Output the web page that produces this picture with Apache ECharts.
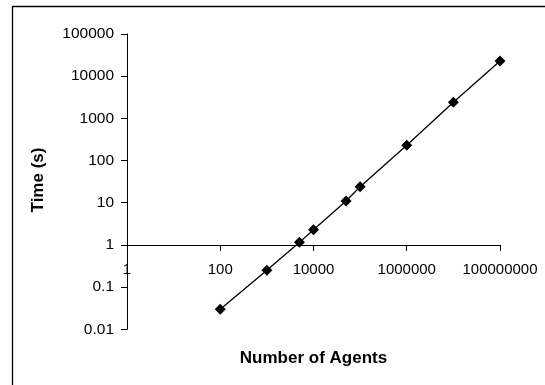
<!DOCTYPE html>
<html>
<head>
<meta charset="utf-8">
<script src="https://cdn.jsdelivr.net/npm/echarts@6/dist/echarts.min.js"></script>
<style>
  html, body { margin: 0; padding: 0; background: #fff; }
  #chart { width: 545px; height: 385px; }
</style>
</head>
<body>
<div id="chart"></div>
<script>
// Run time versus number of simulated agents (log-log)
const agents = [100, 1000, 5000, 10000, 50000, 100000, 1000000, 10000000, 100000000];
const timeSec = [0.03, 0.25, 1.15, 2.3, 11, 24, 230, 2400, 23000];
const xTitle = 'Number of Agents';
const yTitle = 'Time (s)';

const FONT = '"Liberation Sans", Arial, Helvetica, sans-serif';
const fmt = v => String(+Number(v).toPrecision(6));

const chart = echarts.init(document.getElementById('chart'), null, { renderer: 'canvas' });

const option = {
  animation: false,
  backgroundColor: '#fff',
  grid: { left: 127, right: 45, top: 34, bottom: 55.7 },
  xAxis: {
    type: 'log',
    logBase: 10,
    min: 1,
    max: 100000000,
    interval: 2,   // every second decade
    offset: 0,
    axisLine: { show: true, lineStyle: { color: '#000', width: 1 } },
    axisTick: { show: true, inside: false, length: 6, lineStyle: { color: '#000', width: 1 } },
    minorTick: { show: false },
    splitLine: { show: false },
    axisLabel: { color: '#000', fontFamily: FONT, fontSize: 15, margin: 17, formatter: fmt }
  },
  yAxis: {
    type: 'log',
    logBase: 10,
    min: 0.01,
    max: 100000,
    splitNumber: 7,
    axisLine: { show: true, lineStyle: { color: '#000', width: 1 } },
    axisTick: { show: true, inside: false, length: 6, lineStyle: { color: '#000', width: 1 } },
    splitLine: { show: false },
    axisLabel: { color: '#000', fontFamily: FONT, fontSize: 15.5, margin: 13, formatter: fmt }
  },
  graphic: [
    // chart frame (left and top edges)
    { type: 'polyline', silent: true, z: 100,
      shape: { points: [[12.5, 400], [12.5, 6.5], [560, 6.5]] },
      style: { stroke: '#000', lineWidth: 1.3, fill: null } },
    { type: 'text', silent: true, x: 313.5, y: 358,
      style: { text: xTitle, align: 'center', verticalAlign: 'middle',
               font: 'bold 17px ' + FONT, fill: '#000' } },
    { type: 'text', silent: true, rotation: Math.PI / 2, x: 38, y: 180,
      style: { text: yTitle, align: 'center', verticalAlign: 'middle',
               font: 'bold 17px ' + FONT, fill: '#000' } }
  ],
  series: [{
    type: 'line',
    data: agents.map((a, i) => [a, timeSec[i]]),
    symbol: 'diamond',
    symbolSize: 11,
    showAllSymbol: true,
    lineStyle: { color: '#000', width: 1.3 },
    itemStyle: { color: '#000' }
  }]
};

chart.setOption(option);

// Place the horizontal axis where Time = 1 s
const yOne = chart.convertToPixel({ yAxisIndex: 0 }, 1);
const yBottom = chart.convertToPixel({ yAxisIndex: 0 }, 0.01);
chart.setOption({ xAxis: { offset: -(yBottom - yOne) } });
</script>
</body>
</html>
